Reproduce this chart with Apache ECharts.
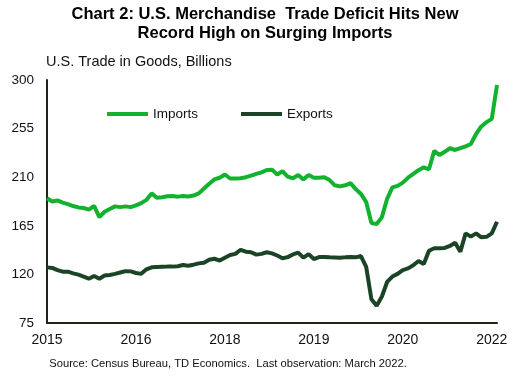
<!DOCTYPE html>
<html>
<head>
<meta charset="utf-8">
<script src="https://cdn.jsdelivr.net/npm/echarts@6/dist/echarts.min.js"></script>
<style>html,body{margin:0;padding:0;background:#fff}#c{width:517px;height:385px}</style>
</head>
<body>
<div id="c"></div>
<script>
// Monthly, Jan 2015 - Mar 2022
const categories = [];
for (let y = 2015; y <= 2022; y++) {
  for (let m = 1; m <= 12; m++) {
    if (y === 2022 && m > 3) break;
    categories.push(y + '-' + String(m).padStart(2, '0'));
  }
}

const imports = [
  190.5,187.5,188.5,186.5,185,183.3,182,181.5,180,183.5,
  173,178,180.5,183,182.3,183,182.3,184,186,189,
  195,191,191.5,192.3,192.5,192,192.6,192.2,193,195,
  199.5,204,208,209.5,212.5,208.8,208.8,209,210,211.5,
  213,214.5,216.7,217,212.5,215.5,210.5,209,212,208,
  212,209.5,209.5,210,207.3,202.5,201.5,202.5,204.5,199,
  194.5,187,167.5,166.7,173,190,200.5,202,205,209.5,
  213,216.5,219.2,217.3,234.5,230.6,233.5,236.8,235.2,237,
  238.5,240.7,250,257,261,264,295.4
];

const exportsData = [
  126.5,126,124,122.5,122.5,121,119.8,118,116,118.5,
  116,119,119.4,120.5,121.8,123,122.8,121.3,120.5,124.7,
  126.6,126.8,127,127.2,127.2,127.5,128.7,128,129,130.2,
  130.8,133.5,134.5,132.8,135.5,138,139,142.8,141,140.5,
  138.3,139,140.5,139.5,137.5,135,136,138.5,140.2,135.5,
  138.8,134.2,136,136.2,135.8,135.7,135.5,135.8,136.2,135.8,
  137,127,97,91,99.5,113,118,120.5,124,125.6,
  128.5,132.4,129.6,141.9,144.2,144.2,144.5,146.3,149.4,141,
  158,155,158,154.3,154.8,158,168.8
];

const xTickIndex = [0, 17, 34, 51, 68, 85];
const xTickLabels = ['2015', '2016', '2018', '2019', '2020', '2022'];
const yTicks = [75, 120, 165, 210, 255, 300];

const FONT = '"Liberation Sans", Arial, sans-serif';
const AXIS = '#1e2418';
const C_IMP = '#12b22f';
const C_EXP = '#1b4427';

const chart = echarts.init(document.getElementById('c'), null, {renderer: 'canvas'});
chart.setOption({
  animation: false,
  backgroundColor: '#fff',
  textStyle: {fontFamily: FONT},
  title: [
    {
      text: 'Chart 2: U.S. Merchandise  Trade Deficit Hits New\nRecord High on Surging Imports',
      left: 260, top: 0, textAlign: 'center',
      textStyle: {fontFamily: FONT, fontSize: 16.5, fontWeight: 'bold', color: '#000', lineHeight: 19}
    },
    {
      text: 'U.S. Trade in Goods, Billions',
      left: 41, top: 49,
      textStyle: {fontFamily: FONT, fontSize: 14.5, fontWeight: 'normal', color: '#111'}
    },
    {
      text: 'Source: Census Bureau, TD Economics.  Last observation: March 2022.',
      left: 223, top: 353, textAlign: 'center',
      textStyle: {fontFamily: FONT, fontSize: 11.2, fontWeight: 'normal', color: '#111'}
    }
  ],
  legend: {
    left: 102, top: 102,
    itemWidth: 41, itemHeight: 4, itemGap: 43,
    icon: 'rect',
    textStyle: {fontFamily: FONT, fontSize: 13.5, color: '#111'},
    data: ['Imports', 'Exports']
  },
  grid: {left: 47, right: 20, top: 80, bottom: 62, containLabel: false},
  xAxis: {
    type: 'category',
    data: categories,
    boundaryGap: false,
    axisLine: {show: true, lineStyle: {color: AXIS, width: 2}},
    axisTick: {show: false},
    splitLine: {show: false},
    axisLabel: {
      interval: function (i) { return xTickIndex.indexOf(i) >= 0; },
      formatter: function (v, i) { return xTickLabels[xTickIndex.indexOf(i)]; },
      fontFamily: FONT, fontSize: 14, color: '#111', margin: 10
    }
  },
  yAxis: {
    type: 'value',
    min: 75, max: 300,
    axisLine: {show: true, lineStyle: {color: AXIS, width: 2}},
    axisTick: {show: false},
    splitLine: {show: false},
    axisLabel: {
      customValues: yTicks,
      fontFamily: FONT, fontSize: 13.5, color: '#111', margin: 13
    }
  },
  series: [
    {
      name: 'Imports', type: 'line', data: imports,
      showSymbol: false, symbol: 'none',
      lineStyle: {color: C_IMP, width: 4}, itemStyle: {color: C_IMP}
    },
    {
      name: 'Exports', type: 'line', data: exportsData,
      showSymbol: false, symbol: 'none',
      lineStyle: {color: C_EXP, width: 4}, itemStyle: {color: C_EXP}
    }
  ]
});
</script>
</body>
</html>
